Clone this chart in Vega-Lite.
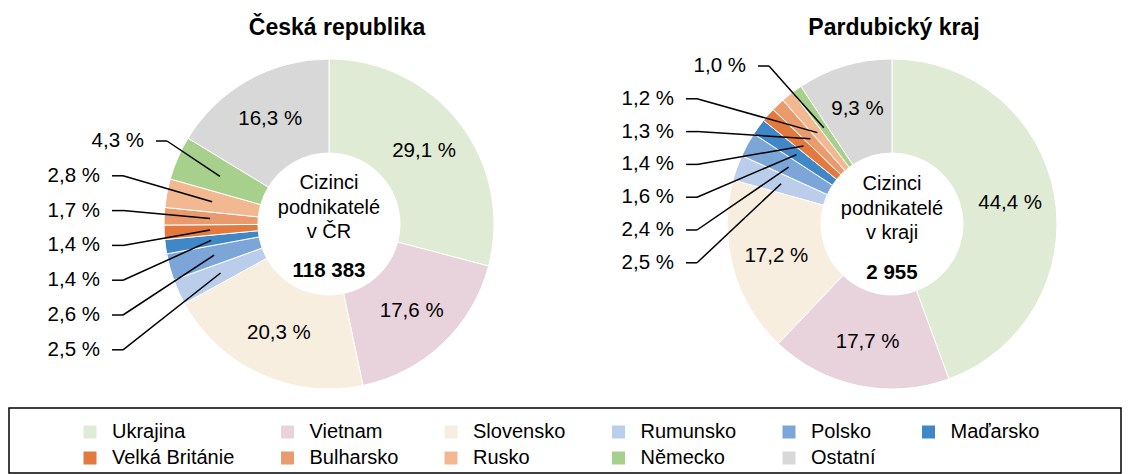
{
  "$schema": "https://vega.github.io/schema/vega-lite/v6.json",
  "background": "white",
  "padding": {"left": 8, "top": 17, "right": 0, "bottom": 0},
  "config": {
    "view": {"stroke": null},
    "font": "Liberation Sans",
    "title": {"font": "Liberation Sans", "fontSize": 23, "fontWeight": "bold", "color": "#000000", "offset": 14, "dx": 8, "frame": "group"},
    "text": {"font": "Liberation Sans", "color": "#000000"}
  },
  "datasets": {
    "cr": [
      {"country": "Ukrajina", "idx": 1, "value": 29.1},
      {"country": "Vietnam", "idx": 2, "value": 17.6},
      {"country": "Slovensko", "idx": 3, "value": 20.3},
      {"country": "Rumunsko", "idx": 4, "value": 2.5},
      {"country": "Polsko", "idx": 5, "value": 2.6},
      {"country": "Maďarsko", "idx": 6, "value": 1.4},
      {"country": "Velká Británie", "idx": 7, "value": 1.4},
      {"country": "Bulharsko", "idx": 8, "value": 1.7},
      {"country": "Rusko", "idx": 9, "value": 2.8},
      {"country": "Německo", "idx": 10, "value": 4.3},
      {"country": "Ostatní", "idx": 11, "value": 16.3}
    ],
    "pk": [
      {"country": "Ukrajina", "idx": 1, "value": 44.4},
      {"country": "Vietnam", "idx": 2, "value": 17.7},
      {"country": "Slovensko", "idx": 3, "value": 17.2},
      {"country": "Rumunsko", "idx": 4, "value": 2.5},
      {"country": "Polsko", "idx": 5, "value": 2.4},
      {"country": "Maďarsko", "idx": 6, "value": 1.6},
      {"country": "Velká Británie", "idx": 7, "value": 1.4},
      {"country": "Bulharsko", "idx": 8, "value": 1.3},
      {"country": "Rusko", "idx": 9, "value": 1.2},
      {"country": "Německo", "idx": 10, "value": 1.0},
      {"country": "Ostatní", "idx": 11, "value": 9.3}
    ],
    "crCenter": [{"caption": "Cizinci\npodnikatelé\nv ČR", "total": 118383}],
    "pkCenter": [{"caption": "Cizinci\npodnikatelé\nv kraji", "total": 2955}]
  },
  "spacing": 13,
  "resolve": {"legend": {"color": "independent"}},
  "vconcat": [
    {
      "resolve": {"legend": {"color": "independent"}},
      "hconcat": [
        {
          "title": "Česká republika",
          "width": 640,
          "height": 340,
          "data": {"name": "cr"},
          "layer": [
            {
              "mark": {"type": "arc", "innerRadius": 71, "outerRadius": 165, "stroke": "white", "strokeWidth": 1},
              "encoding": {
                "x": {"datum": 0, "type": "quantitative", "scale": {"domain": [-320, 320], "nice": false, "zero": false}, "axis": null},
                "y": {"datum": 0, "type": "quantitative", "scale": {"domain": [-170, 170], "reverse": true, "nice": false, "zero": false}, "axis": null},
                "theta": {"field": "value", "type": "quantitative", "stack": true},
                "order": {"field": "idx", "type": "quantitative"},
                "color": {
                  "field": "country", "type": "nominal",
                  "scale": {
                    "domain": ["Ukrajina", "Vietnam", "Slovensko", "Rumunsko", "Polsko", "Maďarsko", "Velká Británie", "Bulharsko", "Rusko", "Německo", "Ostatní"],
                    "range": ["#DFEBD5", "#E8D2DC", "#F8EEDF", "#BACDEB", "#7CA5D8", "#3F87C7", "#E2793F", "#EA9B6D", "#F2B892", "#A8D08D", "#D8D8D8"]
                  },
                  "legend": null
                }
              }
            },
            {
              "transform": [{"calculate": "replace(format(datum.value, '.1f'), '.', ',') + ' %'", "as": "label"}],
              "mark": {"type": "text", "radius": 120, "fontSize": 20.5, "baseline": "middle", "align": "center"},
              "encoding": {
                "x": {"datum": 0, "type": "quantitative"},
                "y": {"datum": 0, "type": "quantitative"},
                "theta": {"field": "value", "type": "quantitative", "stack": true},
                "order": {"field": "idx", "type": "quantitative"},
                "text": {"condition": {"test": "datum.value >= 5", "field": "label", "type": "nominal"}, "value": ""}
              }
            },
            {
              "transform": [
                {"window": [{"op": "sum", "field": "value", "as": "cum"}], "sort": [{"field": "idx"}], "frame": [null, 0]},
                {"filter": "datum.value < 5"},
                {"window": [{"op": "row_number", "as": "rank"}], "sort": [{"field": "idx", "order": "descending"}]},
                {"calculate": "2 * PI * (datum.cum - datum.value / 2) / 100", "as": "mid"},
                {"calculate": "119 * sin(datum.mid)", "as": "ex"},
                {"calculate": "-119 * cos(datum.mid)", "as": "ey"},
                {"calculate": "-83 + 34.8 * (datum.rank - 1)", "as": "ly"},
                {"calculate": "datum.rank == 1 ? -185 : -229", "as": "lx"},
                {"calculate": "datum.lx + 12", "as": "hx1"},
                {"calculate": "datum.lx + 23", "as": "hx2"},
                {"calculate": "replace(format(datum.value, '.1f'), '.', ',') + ' %'", "as": "label"}
              ],
              "layer": [
                {
                  "mark": {"type": "text", "align": "right", "baseline": "middle", "fontSize": 20.5},
                  "encoding": {
                    "x": {"field": "lx", "type": "quantitative"},
                    "y": {"field": "ly", "type": "quantitative"},
                    "text": {"field": "label", "type": "nominal"}
                  }
                },
                {
                  "mark": {"type": "rule", "color": "black", "strokeWidth": 1.5},
                  "encoding": {
                    "x": {"field": "hx1", "type": "quantitative"},
                    "x2": {"field": "hx2"},
                    "y": {"field": "ly", "type": "quantitative"},
                    "y2": {"field": "ly"}
                  }
                },
                {
                  "mark": {"type": "rule", "color": "black", "strokeWidth": 1.5},
                  "encoding": {
                    "x": {"field": "hx2", "type": "quantitative"},
                    "x2": {"field": "ex"},
                    "y": {"field": "ly", "type": "quantitative"},
                    "y2": {"field": "ey"}
                  }
                }
              ]
            },
            {
              "data": {"name": "crCenter"},
              "transform": [{"calculate": "replace(format(datum.total, ','), ',', ' ')", "as": "totalLabel"}],
              "layer": [
                {
                  "mark": {"type": "text", "fontSize": 20, "lineHeight": 24.5, "lineBreak": "\n", "baseline": "middle", "align": "center", "dy": -41},
                  "encoding": {
                    "x": {"datum": 0, "type": "quantitative"},
                    "y": {"datum": 0, "type": "quantitative"},
                    "text": {"field": "caption", "type": "nominal"}
                  }
                },
                {
                  "mark": {"type": "text", "fontSize": 20.5, "fontWeight": "bold", "baseline": "middle", "align": "center", "dy": 47},
                  "encoding": {
                    "x": {"datum": 0, "type": "quantitative"},
                    "y": {"datum": 0, "type": "quantitative"},
                    "text": {"field": "totalLabel", "type": "nominal"}
                  }
                }
              ]
            }
          ]
        },
        {
          "title": "Pardubický kraj",
          "width": 474,
          "height": 340,
          "data": {"name": "pk"},
          "layer": [
            {
              "mark": {"type": "arc", "innerRadius": 71, "outerRadius": 165, "stroke": "white", "strokeWidth": 1},
              "encoding": {
                "x": {"datum": 0, "type": "quantitative", "scale": {"domain": [-243, 231], "nice": false, "zero": false}, "axis": null},
                "y": {"datum": 0, "type": "quantitative", "scale": {"domain": [-170, 170], "reverse": true, "nice": false, "zero": false}, "axis": null},
                "theta": {"field": "value", "type": "quantitative", "stack": true},
                "order": {"field": "idx", "type": "quantitative"},
                "color": {
                  "field": "country", "type": "nominal",
                  "scale": {
                    "domain": ["Ukrajina", "Vietnam", "Slovensko", "Rumunsko", "Polsko", "Maďarsko", "Velká Británie", "Bulharsko", "Rusko", "Německo", "Ostatní"],
                    "range": ["#DFEBD5", "#E8D2DC", "#F8EEDF", "#BACDEB", "#7CA5D8", "#3F87C7", "#E2793F", "#EA9B6D", "#F2B892", "#A8D08D", "#D8D8D8"]
                  },
                  "legend": null
                }
              }
            },
            {
              "transform": [{"calculate": "replace(format(datum.value, '.1f'), '.', ',') + ' %'", "as": "label"}],
              "mark": {"type": "text", "radius": 120, "fontSize": 20.5, "baseline": "middle", "align": "center"},
              "encoding": {
                "x": {"datum": 0, "type": "quantitative"},
                "y": {"datum": 0, "type": "quantitative"},
                "theta": {"field": "value", "type": "quantitative", "stack": true},
                "order": {"field": "idx", "type": "quantitative"},
                "text": {"condition": {"test": "datum.value >= 5", "field": "label", "type": "nominal"}, "value": ""}
              }
            },
            {
              "transform": [
                {"window": [{"op": "sum", "field": "value", "as": "cum"}], "sort": [{"field": "idx"}], "frame": [null, 0]},
                {"filter": "datum.value < 5"},
                {"window": [{"op": "row_number", "as": "rank"}], "sort": [{"field": "idx", "order": "descending"}]},
                {"calculate": "2 * PI * (datum.cum - datum.value / 2) / 100", "as": "mid"},
                {"calculate": "118 * sin(datum.mid)", "as": "ex"},
                {"calculate": "-118 * cos(datum.mid)", "as": "ey"},
                {"calculate": "-158 + 32.8 * (datum.rank - 1)", "as": "ly"},
                {"calculate": "datum.rank == 1 ? -146 : -218", "as": "lx"},
                {"calculate": "datum.lx + 12", "as": "hx1"},
                {"calculate": "datum.lx + 23", "as": "hx2"},
                {"calculate": "replace(format(datum.value, '.1f'), '.', ',') + ' %'", "as": "label"}
              ],
              "layer": [
                {
                  "mark": {"type": "text", "align": "right", "baseline": "middle", "fontSize": 20.5},
                  "encoding": {
                    "x": {"field": "lx", "type": "quantitative"},
                    "y": {"field": "ly", "type": "quantitative"},
                    "text": {"field": "label", "type": "nominal"}
                  }
                },
                {
                  "mark": {"type": "rule", "color": "black", "strokeWidth": 1.5},
                  "encoding": {
                    "x": {"field": "hx1", "type": "quantitative"},
                    "x2": {"field": "hx2"},
                    "y": {"field": "ly", "type": "quantitative"},
                    "y2": {"field": "ly"}
                  }
                },
                {
                  "mark": {"type": "rule", "color": "black", "strokeWidth": 1.5},
                  "encoding": {
                    "x": {"field": "hx2", "type": "quantitative"},
                    "x2": {"field": "ex"},
                    "y": {"field": "ly", "type": "quantitative"},
                    "y2": {"field": "ey"}
                  }
                }
              ]
            },
            {
              "data": {"name": "pkCenter"},
              "transform": [{"calculate": "replace(format(datum.total, ','), ',', ' ')", "as": "totalLabel"}],
              "layer": [
                {
                  "mark": {"type": "text", "fontSize": 20, "lineHeight": 24.5, "lineBreak": "\n", "baseline": "middle", "align": "center", "dy": -40},
                  "encoding": {
                    "x": {"datum": 0, "type": "quantitative"},
                    "y": {"datum": 0, "type": "quantitative"},
                    "text": {"field": "caption", "type": "nominal"}
                  }
                },
                {
                  "mark": {"type": "text", "fontSize": 20.5, "fontWeight": "bold", "baseline": "middle", "align": "center", "dy": 49},
                  "encoding": {
                    "x": {"datum": 0, "type": "quantitative"},
                    "y": {"datum": 0, "type": "quantitative"},
                    "text": {"field": "totalLabel", "type": "nominal"}
                  }
                }
              ]
            }
          ]
        }
      ],
      "spacing": 0,
      "bounds": "flush"
    },
    {
      "width": 1112,
      "height": 65,
      "view": {"stroke": "black", "strokeWidth": 1.5},
      "data": {"name": "cr"},
      "mark": {"type": "arc", "innerRadius": 0, "outerRadius": 0},
      "encoding": {
        "theta": {"field": "value", "type": "quantitative"},
        "color": {
          "field": "country", "type": "nominal",
          "scale": {
            "domain": ["Ukrajina", "Vietnam", "Slovensko", "Rumunsko", "Polsko", "Maďarsko", "Velká Británie", "Bulharsko", "Rusko", "Německo", "Ostatní"],
            "range": ["#DFEBD5", "#E8D2DC", "#F8EEDF", "#BACDEB", "#7CA5D8", "#3F87C7", "#E2793F", "#EA9B6D", "#F2B892", "#A8D08D", "#D8D8D8"]
          },
          "legend": {
            "orient": "none", "legendX": 71, "legendY": 14, "direction": "horizontal",
            "title": null, "columns": 6, "gridAlign": "each",
            "symbolType": "square", "symbolSize": 169, "symbolStrokeWidth": 0, "symbolOpacity": 1,
            "labelFont": "Liberation Sans", "labelFontSize": 20, "labelColor": "#000000", "labelOffset": 12, "labelLimit": 300,
            "columnPadding": 42.5, "rowPadding": 6, "padding": 0
          }
        }
      }
    }
  ]
}
